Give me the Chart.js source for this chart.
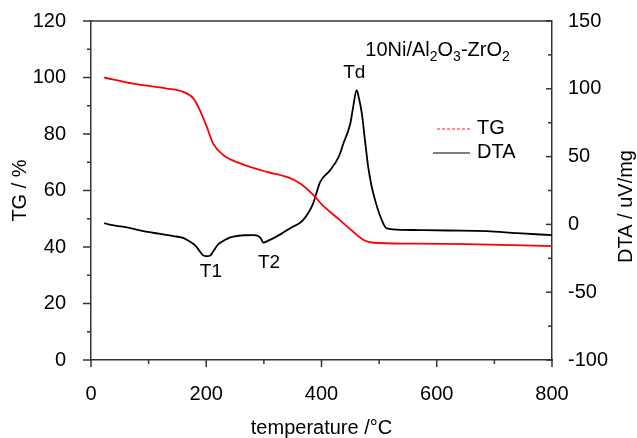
<!DOCTYPE html>
<html>
<head>
<meta charset="utf-8">
<script src="https://cdn.jsdelivr.net/npm/chart.js@4.4.1/dist/chart.umd.min.js"></script>
<style>
  html, body { margin: 0; padding: 0; background: #fff; }
  #wrap { width: 637px; height: 438px; }
</style>
</head>
<body>
<div id="wrap"><canvas id="tgChart"></canvas></div>
<script>
// TG curve (left axis, %)
const tgTemp   = [23, 73, 131, 160, 178, 189, 201, 212, 230, 259, 305, 340, 363, 386, 400, 432, 455, 473, 490, 550, 650, 750, 800];
const tgValues = [100, 97.8, 96.1, 94.9, 92.5, 88.4, 82.5, 76.6, 72.5, 69.6, 66.6, 64.8, 62.5, 58.4, 55.2, 49.5, 45.4, 42.5, 41.5, 41.2, 41.0, 40.6, 40.3];

// DTA curve (right axis, uV/mg)
const dtaTemp   = [23, 30, 60, 91, 120, 143, 160, 172, 182, 189, 195, 201, 207, 212, 220, 227, 237, 247, 265, 282, 290, 295, 299, 305, 316, 330, 345, 368, 385, 398, 415, 430, 438, 450, 455, 461, 465, 470, 476, 481, 487, 493, 502, 513, 540, 571, 620, 687, 740, 800];
const dtaValues = [1, 0, -2, -5, -7, -8.6, -10, -12.8, -16, -20, -23, -23.5, -23, -20, -15, -12.8, -10.5, -9.1, -8, -7.9, -8.5, -10.5, -13.5, -12.5, -10.3, -7, -3, 3.2, 15, 31.5, 40, 50, 59.7, 74.4, 86.7, 99, 93, 81.8, 60, 42.4, 28, 17.9, 6, -3, -4, -4.2, -4.5, -4.9, -6.5, -7.9];

// axis ticks
const xTicks   = [0, 200, 400, 600, 800];
const tgTicks  = [0, 20, 40, 60, 80, 100, 120];
const dtaTicks = [-100, -50, 0, 50, 100, 150];

// peak labels: [text, temperature, DTA]
const peakLabels = [['Td', 457, 112], ['T1', 208, -35], ['T2', 309, -28]];

Chart.defaults.font.family = "'Liberation Sans', Arial, sans-serif";
Chart.defaults.color = '#000';

const axisColor = '#333';

const frame = {
    id: 'frame',
    afterDraw(chart) {
        const { ctx, chartArea: a, scales } = chart;
        ctx.save();
        ctx.strokeStyle = axisColor;
        ctx.lineWidth = 1.5;

        // top line of the frame
        ctx.beginPath();
        ctx.moveTo(a.left, a.top);
        ctx.lineTo(a.right, a.top);
        ctx.stroke();

        const hTick = (scale, v, x, len) => {
            const y = scale.getPixelForValue(v);
            ctx.beginPath(); ctx.moveTo(x, y); ctx.lineTo(x + len, y); ctx.stroke();
        };
        const vTick = (scale, v, y, len) => {
            const x = scale.getPixelForValue(v);
            ctx.beginPath(); ctx.moveTo(x, y); ctx.lineTo(x, y + len); ctx.stroke();
        };

        // x: major outward, minor halfway
        xTicks.forEach((v, i) => {
            vTick(scales.x, v, a.bottom, 7);
            if (i < xTicks.length - 1) vTick(scales.x, v + 100, a.bottom, 4);
        });
        // left: outward
        tgTicks.forEach((v, i) => {
            hTick(scales.y, v, a.left, -8);
            if (i < tgTicks.length - 1) hTick(scales.y, v + 10, a.left, -4);
        });
        // right: inward
        dtaTicks.forEach((v, i) => {
            hTick(scales.y2, v, a.right, -6);
            if (i < dtaTicks.length - 1) hTick(scales.y2, v + 25, a.right, -4);
        });

        // right axis title, reading upward
        ctx.fillStyle = '#000';
        ctx.font = "20px 'Liberation Sans', Arial, sans-serif";
        ctx.textAlign = 'center';
        ctx.textBaseline = 'middle';
        ctx.save();
        ctx.translate(626, (a.top + a.bottom) / 2 + 16);
        ctx.rotate(-Math.PI / 2);
        ctx.fillText('DTA / uV/mg', 0, 0);
        ctx.restore();

        // peak labels
        ctx.font = "19px 'Liberation Sans', Arial, sans-serif";
        peakLabels.forEach(([t, x, y]) => {
            ctx.fillText(t, scales.x.getPixelForValue(x), scales.y2.getPixelForValue(y));
        });

        // sample name with subscripts
        const parts = [['10Ni/Al', 0], ['2', 1], ['O', 0], ['3', 1], ['-ZrO', 0], ['2', 1]];
        let px = scales.x.getPixelForValue(476);
        const py = scales.y2.getPixelForValue(128);
        ctx.textAlign = 'left';
        parts.forEach(([s, sub]) => {
            ctx.font = (sub ? '14px' : '20px') + " 'Liberation Sans', Arial, sans-serif";
            ctx.fillText(s, px, sub ? py + 6 : py);
            px += ctx.measureText(s).width;
        });

        // legend
        const legend = [
            { label: 'TG', color: '#ff2020', dash: [3, 2], width: 1.2, x0: 437, y: 129 },
            { label: 'DTA', color: '#000', dash: [], width: 1.2, x0: 433, y: 153 }
        ];
        ctx.font = "20px 'Liberation Sans', Arial, sans-serif";
        legend.forEach(l => {
            ctx.strokeStyle = l.color;
            ctx.lineWidth = l.width;
            ctx.setLineDash(l.dash);
            ctx.beginPath(); ctx.moveTo(l.x0, l.y); ctx.lineTo(470, l.y); ctx.stroke();
            ctx.setLineDash([]);
            ctx.fillText(l.label, 477, l.y - 1);
        });
        ctx.restore();
    }
};

const toPoints = (xs, ys) => xs.map((x, i) => ({ x: x, y: ys[i] }));

// fixed box sizes so the plot area lands where it does in the picture
const fitX = s => { s.height = 78; s.paddingLeft = 0; s.paddingRight = 0; };
const fitY = w => s => { s.width = w; s.paddingTop = 0; s.paddingBottom = 0; };

new Chart(document.getElementById('tgChart'), {
    type: 'line',
    data: {
        datasets: [
            {
                label: 'TG',
                data: toPoints(tgTemp, tgValues),
                borderColor: '#ff0000',
                borderWidth: 1.8,
                pointRadius: 0,
                cubicInterpolationMode: 'monotone',
                yAxisID: 'y'
            },
            {
                label: 'DTA',
                data: toPoints(dtaTemp, dtaValues),
                borderColor: '#000000',
                borderWidth: 1.8,
                pointRadius: 0,
                cubicInterpolationMode: 'monotone',
                yAxisID: 'y2'
            }
        ]
    },
    options: {
        responsive: true,
        maintainAspectRatio: false,
        animation: false,
        devicePixelRatio: 1,
        layout: { padding: { top: 21, left: 0, right: 0, bottom: 0 } },
        plugins: {
            legend: { display: false },
            tooltip: { enabled: false }
        },
        scales: {
            x: {
                type: 'linear',
                min: 0,
                max: 800,
                afterFit: fitX,
                afterBuildTicks: s => { s.ticks = xTicks.map(v => ({ value: v })); },
                grid: { display: false },
                border: { display: true, color: axisColor, width: 1.5 },
                ticks: { font: { size: 20 }, padding: 14, maxRotation: 0 },
                title: {
                    display: true,
                    text: 'temperature /\u00B0C',
                    font: { size: 20, lineHeight: 1 },
                    padding: { top: 0, bottom: 0 }
                }
            },
            y: {
                position: 'left',
                min: 0,
                max: 120,
                afterFit: fitY(91),
                afterBuildTicks: s => { s.ticks = tgTicks.map(v => ({ value: v })); },
                grid: { display: false },
                border: { display: true, color: axisColor, width: 1.5 },
                ticks: { font: { size: 20 }, padding: 17 },
                title: {
                    display: true,
                    text: 'TG / %',
                    font: { size: 20, lineHeight: 1 },
                    padding: { top: 10, bottom: 0 }
                }
            },
            y2: {
                position: 'right',
                min: -100,
                max: 150,
                afterFit: fitY(85),
                afterBuildTicks: s => { s.ticks = dtaTicks.map(v => ({ value: v })); },
                grid: { display: false },
                border: { display: true, color: axisColor, width: 1.5 },
                ticks: { font: { size: 20 }, padding: 8 }
            }
        }
    },
    plugins: [frame]
});
</script>
</body>
</html>
